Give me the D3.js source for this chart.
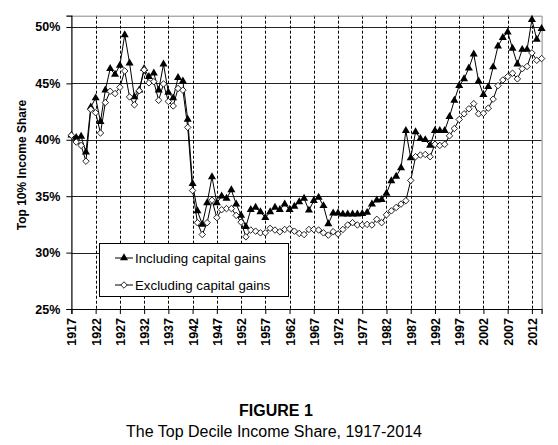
<!DOCTYPE html>
<html>
<head>
<meta charset="utf-8">
<script src="https://cdn.jsdelivr.net/npm/d3@7"></script>
<style>
  html, body { margin: 0; padding: 0; background: #fff; }
  svg { display: block; font-family: 'Liberation Sans', Arial, sans-serif; }
</style>
</head>
<body>
<svg id="chart" width="558" height="445"></svg>
<script>
const years = d3.range(1917, 2015)

// Top 10% share including capital gains, 1917-2014
const inclGains = [
  40.4, 40.2, 40.3, 38.9, 42.9, 43.7, 41.6, 44.4, 46.3, 45.8,
  46.6, 49.3, 46.8, 43.8, 44.4, 46.3, 45.6, 45.9, 44.4, 46.7,
  44.2, 43.7, 45.5, 45.2, 41.8, 36.1, 33.7, 32.5, 34.4, 36.7,
  34.4, 35.0, 34.8, 35.55, 34.3, 33.3, 32.3, 33.8, 34.0, 33.6,
  33.1, 33.6, 34.0, 33.8, 34.3, 33.8, 34.1, 34.5, 34.8, 33.75,
  34.6, 34.9, 34.15, 32.55, 33.5, 33.5, 33.4, 33.4, 33.4, 33.4,
  33.45, 33.55, 34.3, 34.65, 34.7, 35.25, 36.35, 36.75, 37.5, 40.8,
  38.4, 40.7, 40.1, 40.0, 39.5, 40.8, 40.8, 40.8, 42.05, 43.5,
  44.8, 45.4, 46.35, 47.6, 45.2, 44.0, 44.7, 46.45, 48.3, 49.05,
  49.55, 48.1, 46.7, 48.0, 48.0, 50.65, 48.9, 49.85,
]

// Top 10% share excluding capital gains, 1917-2014
const exclGains = [
  40.4, 39.8, 39.5, 38.1, 42.7, 42.4, 40.6, 43.3, 44.3, 44.1,
  44.65, 46.1, 43.8, 43.1, 44.35, 46.2, 45.05, 45.15, 43.5, 44.95,
  43.4, 43.0, 44.55, 44.4, 41.1, 35.5, 32.65, 31.6, 32.65, 34.65,
  33.1, 33.8, 33.9, 33.9, 33.3, 32.7, 31.4, 32.0, 31.9, 31.75,
  31.75, 32.15, 32.0, 31.85, 32.05, 32.1, 31.9, 31.7, 31.6, 32.05,
  32.05, 32.0, 31.75, 31.55, 31.85, 31.65, 32.05, 32.45, 32.65, 32.45,
  32.45, 32.5, 32.45, 32.95, 32.65, 33.35, 33.7, 34.0, 34.3, 34.6,
  36.4, 38.5, 38.65, 38.7, 38.5, 39.6, 39.5, 39.6, 40.35, 41.0,
  41.8, 42.3, 42.75, 43.2, 42.3, 42.35, 42.8, 43.6, 44.8, 45.3,
  45.6, 45.9, 45.4, 46.3, 46.5, 47.7, 47.05, 47.2,
]

const yearTicks = d3.range(1917, 2015, 5)
const shareTicks = [25, 30, 35, 40, 45, 50]
const seriesNames = ['Including capital gains', 'Excluding capital gains']

const LEFT = 71.4
const RIGHT = 541.6
const TOP = 15.7
const BOTTOM = 309

const x = d3.scaleLinear()
  .domain([1917, 2014])
  .range([LEFT, RIGHT])
const y = d3.scaleLinear()
  .domain([25, 51])
  .range([BOTTOM, TOP])

const svg = d3.select('#chart')

// Horizontal gridlines
svg.append('g')
  .selectAll('line')
  .data(shareTicks.slice(1))
  .enter()
  .append('line')
  .attr('x1', LEFT).attr('x2', RIGHT)
  .attr('y1', d => Math.round(y(d)) + 0.5)
  .attr('y2', d => Math.round(y(d)) + 0.5)
  .attr('stroke', '#222')
  .attr('stroke-width', 1)

// Vertical dashed gridlines
svg.append('g')
  .selectAll('line')
  .data(yearTicks.slice(1))
  .enter()
  .append('line')
  .attr('x1', d => Math.round(x(d)) + 0.5)
  .attr('x2', d => Math.round(x(d)) + 0.5)
  .attr('y1', TOP).attr('y2', BOTTOM)
  .attr('stroke', '#000')
  .attr('stroke-width', 1)
  .attr('stroke-dasharray', '3,2')

// Plot frame (top and right)
svg.append('path')
  .attr('d', `M${LEFT},${TOP + 0.5}H${RIGHT + 0.5}V${BOTTOM}`)
  .attr('fill', 'none')
  .attr('stroke', '#888')

// Axes
const yAxis = svg.append('g')
  .attr('transform', `translate(${LEFT},0)`)
  .call(d3.axisLeft(y).tickValues(shareTicks).tickSize(5).tickPadding(6)
    .tickFormat(d => d + '%'))
const xAxis = svg.append('g')
  .attr('transform', `translate(0,${BOTTOM})`)
  .call(d3.axisBottom(x).tickValues(yearTicks).tickSize(5).tickFormat(d3.format('d')))

;[yAxis, xAxis].forEach(a => {
  a.select('.domain').attr('stroke', '#000').attr('stroke-width', 1.2)
  a.selectAll('.tick line').attr('stroke', '#000')
  a.selectAll('text')
    .attr('fill', '#000')
    .style('font-size', '12.5px')
    .style('font-weight', 'bold')
    .style('font-family', "'Liberation Sans', Arial, sans-serif")
})

xAxis.selectAll('text')
  .attr('transform', 'rotate(-90)')
  .attr('text-anchor', 'end')
  .attr('x', -9)
  .attr('y', 0)
  .attr('dy', '0.36em')

// Y axis title
svg.append('text')
  .attr('transform', 'translate(26,165) rotate(-90)')
  .attr('text-anchor', 'middle')
  .style('font-size', '12px')
  .style('font-weight', 'bold')
  .text('Top 10% Income Share')

const line = d3.line()
  .x((d, i) => x(years[i]))
  .y(d => y(d))

const triangle = d3.symbol().type(d3.symbolTriangle).size(28)
const diamond = d3.symbol().type(d3.symbolSquare).size(21)

// Series: including capital gains
svg.append('path')
  .datum(inclGains)
  .attr('d', line)
  .attr('fill', 'none')
  .attr('stroke', '#000')
  .attr('stroke-width', 1)
svg.append('g')
  .selectAll('path')
  .data(inclGains)
  .enter()
  .append('path')
  .attr('d', triangle)
  .attr('transform', (d, i) => `translate(${x(years[i])},${y(d)})`)
  .attr('fill', '#000')

// Series: excluding capital gains
svg.append('path')
  .datum(exclGains)
  .attr('d', line)
  .attr('fill', 'none')
  .attr('stroke', '#000')
  .attr('stroke-width', 1)
svg.append('g')
  .selectAll('path')
  .data(exclGains)
  .enter()
  .append('path')
  .attr('d', diamond)
  .attr('transform', (d, i) => `translate(${x(years[i])},${y(d)}) rotate(45)`)
  .attr('fill', '#fff')
  .attr('stroke', '#000')
  .attr('stroke-width', 0.8)

// Legend
const legend = svg.append('g')
legend.append('rect')
  .attr('x', 99.5).attr('y', 243.5)
  .attr('width', 189).attr('height', 53)
  .attr('fill', '#fff')
  .attr('stroke', '#000')

const legendRows = legend.selectAll('g')
  .data(seriesNames)
  .enter()
  .append('g')
  .attr('transform', (d, i) => `translate(0,${258 + i * 27})`)
legendRows.append('line')
  .attr('x1', 115).attr('x2', 133)
  .attr('stroke', '#000')
legendRows.append('path')
  .attr('d', (d, i) => i === 0 ? triangle() : diamond())
  .attr('transform', (d, i) => i === 0 ? 'translate(124,0)' : 'translate(124,0) rotate(45)')
  .attr('fill', (d, i) => i === 0 ? '#000' : '#fff')
  .attr('stroke', (d, i) => i === 0 ? 'none' : '#000')
  .attr('stroke-width', 0.8)
legendRows.append('text')
  .attr('x', 135)
  .attr('dy', '0.36em')
  .style('font-size', '13.3px')
  .text(d => d)

// Figure caption
svg.append('text')
  .attr('x', 276).attr('y', 416)
  .attr('text-anchor', 'middle')
  .style('font-size', '16px')
  .style('font-weight', 'bold')
  .text('FIGURE 1')
svg.append('text')
  .attr('x', 274).attr('y', 437)
  .attr('text-anchor', 'middle')
  .style('font-size', '16px')
  .text('The Top Decile Income Share, 1917-2014')
</script>
</body>
</html>
